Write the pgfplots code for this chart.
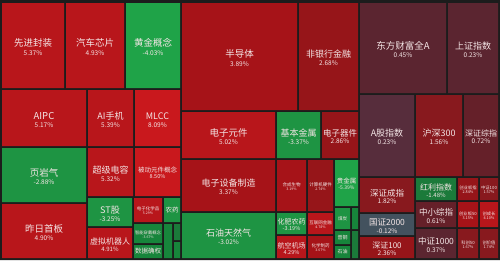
\documentclass[border=0pt]{standalone}
\usepackage{pgfplots}
\pgfplotsset{compat=1.18}
\usepackage{fontspec}
\setmainfont{Noto Sans CJK SC}
\definecolor{bg}{HTML}{1C1C1C}
\definecolor{rA}{HTML}{B8161B}
\definecolor{rB}{HTML}{C9181D}
\definecolor{rC}{HTML}{A61318}
\definecolor{rD}{HTML}{961519}
\definecolor{rE}{HTML}{88191E}
\definecolor{mA}{HTML}{5B2530}
\definecolor{mB}{HTML}{652029}
\definecolor{mC}{HTML}{572D3C}
\definecolor{gA}{HTML}{1FA348}
\definecolor{gB}{HTML}{1E9443}
\definecolor{gC}{HTML}{1B7A3A}
\definecolor{gD}{HTML}{17853B}
\definecolor{gb}{HTML}{43525E}
\definecolor{txt}{HTML}{F4E6E6}
% x0 y0 x1 y1 colour label value labelsize valuesize
\newcommand{\tile}[9]{%
  \addplot[fill=#5, draw=none, no marks] coordinates {(#1,#2) (#3,#2) (#3,#4) (#1,#4) (#1,#2)};
  \node[anchor=base, inner sep=0pt, text=txt, font=\fontsize{#8}{#8}\selectfont, yshift={-0.15*#8}]
    at (axis cs:{(#1+#3)/2},{(#2+#4)/2}) {#6};
  \node[anchor=base, inner sep=0pt, text=txt, font=\fontsize{#9}{#9}\selectfont, yshift={-1.05*#8}]
    at (axis cs:{(#1+#3)/2},{(#2+#4)/2}) {#7};
}
% label only
\newcommand{\tilel}[7]{%
  \addplot[fill=#5, draw=none, no marks] coordinates {(#1,#2) (#3,#2) (#3,#4) (#1,#4) (#1,#2)};
  \node[anchor=center, inner sep=0pt, text=txt, font=\fontsize{#7}{#7}\selectfont]
    at (axis cs:{(#1+#3)/2},{(#2+#4)/2}) {#6};
}
\begin{document}
\begin{tikzpicture}
\begin{axis}[width=500pt, height=260pt, scale only axis,
  xmin=0, xmax=500, ymin=0, ymax=260, y dir=reverse, hide axis, clip=false]
\addplot[fill=bg, draw=none, no marks] coordinates {(0,0) (500,0) (500,260) (0,260) (0,0)};
% top row
\tile{2}{3}{64}{88}{rA}{先进封装}{5.37\%}{9.5}{6.5}
\tile{66}{3}{124}{88}{rA}{汽车芯片}{4.93\%}{9.5}{6.5}
\tile{126}{3}{180}{88}{gA}{黄金概念}{-4.03\%}{9.5}{6.5}
\tile{182}{3}{297}{110}{rC}{半导体}{3.89\%}{9.5}{6.5}
\tile{299}{3}{358}{110}{rD}{非银行金融}{2.68\%}{9}{6.5}
\tile{360}{3}{446}{93}{mA}{东方财富全A}{0.45\%}{9.5}{6.5}
\tile{448}{3}{498}{93}{mA}{上证指数}{0.23\%}{9}{6.5}
% left block
\tile{2}{90}{86}{146}{rA}{AIPC}{5.17\%}{9.5}{6.5}
\tile{88}{90}{133}{146}{rA}{AI手机}{5.39\%}{9}{6.5}
\tile{135}{90}{180}{146}{rB}{MLCC}{8.09\%}{9}{6.5}
\tile{2}{148}{86}{202}{gB}{页岩气}{-2.88\%}{9.5}{6.5}
\tile{2}{204}{86}{258}{rA}{昨日首板}{4.90\%}{9.5}{6.5}
\tile{88}{148}{133}{196}{rA}{超级电容}{5.32\%}{9}{6.5}
\tile{135}{148}{180}{196}{rB}{被动元件概念}{8.50\%}{6.5}{5.5}
\tile{88}{198}{132}{226}{gB}{ST股}{-3.25\%}{9}{6.5}
\tile{88}{228}{132}{258}{rA}{虚拟机器人}{4.91\%}{8}{6}
\tile{134}{198}{162}{222}{rA}{电子化学品}{5.29\%}{4.5}{3.5}
\tile{134}{224}{162}{243}{gD}{智能穿戴概念}{-3.67\%}{4.3}{3.5}
\tilel{134}{245}{162}{258}{gD}{数据确权}{6.5}
\tilel{164}{198}{180}{222}{gB}{农药}{6.5}
\addplot[fill=gD, draw=none, no marks] coordinates {(164,224) (172,224) (172,258) (164,258) (164,224)};
\addplot[fill=gC, draw=none, no marks] coordinates {(174,224) (180,224) (180,240) (174,240) (174,224)};
\addplot[fill=gD, draw=none, no marks] coordinates {(174,242) (180,242) (180,258) (174,258) (174,242)};
% middle block
\tile{182}{112}{275}{158}{rA}{电子元件}{5.02\%}{9.5}{6.5}
\tile{277}{112}{320}{158}{gB}{基本金属}{-3.37\%}{9}{6.5}
\tile{322}{112}{358}{158}{rD}{电子器件}{2.86\%}{8.5}{6.5}
\tile{182}{160}{275}{211}{rC}{电子设备制造}{3.37\%}{9}{6.5}
\tile{182}{213}{275}{258}{gB}{石油天然气}{-3.02\%}{9}{6.5}
\tile{277}{160}{306}{211}{rC}{合成生物}{3.19\%}{4.5}{3.5}
\tile{308}{160}{333}{211}{rD}{计算机硬件}{2.74\%}{4.5}{3.5}
\tile{277}{213}{306}{234}{gB}{化肥农药}{-3.19\%}{7}{5.5}
\tile{277}{236}{306}{258}{rA}{航空机场}{4.29\%}{7}{5.5}
\tile{308}{213}{333}{234}{rA}{互联网金融}{4.78\%}{4.5}{3.5}
\tile{308}{236}{333}{258}{rC}{化学制药}{3.67\%}{4.5}{3.5}
\tile{335}{160}{358}{206}{gA}{贵金属}{-5.39\%}{6.5}{5}
\tilel{335}{208}{350}{229}{gB}{煤炭}{4.5}
\addplot[fill=gD, draw=none, no marks] coordinates {(352,208) (358,208) (358,229) (352,229) (352,208)};
\tilel{335}{231}{350}{244}{gD}{普钢}{5}
\tilel{335}{246}{350}{258}{gD}{石油}{5}
\addplot[fill=gC, draw=none, no marks] coordinates {(352,231) (358,231) (358,258) (352,258) (352,231)};
% right block
\tile{360}{95}{414}{176}{mC}{A股指数}{0.23\%}{9}{6.5}
\tile{416}{95}{462}{176}{rE}{沪深300}{1.56\%}{9}{6.5}
\tile{464}{95}{498}{176}{mB}{深证综指}{0.72\%}{8}{6.5}
\tile{360}{178}{414}{212}{rE}{深证成指}{1.82\%}{8.5}{6.5}
\tile{360}{214}{414}{235}{gb}{国证2000}{-0.12\%}{8.5}{6.5}
\tile{360}{237}{414}{258}{rD}{深证100}{2.36\%}{8}{6.5}
\tile{416}{178}{456}{200}{gC}{红利指数}{-1.48\%}{8}{6}
\tile{416}{202}{456}{227}{mB}{中小综指}{0.61\%}{8.5}{6.5}
\tile{416}{229}{456}{258}{mA}{中证1000}{0.37\%}{8.5}{6.5}
\tile{458}{178}{478}{200}{rD}{创业板指}{2.84\%}{4.3}{3.8}
\tile{480}{178}{498}{200}{rE}{中证100}{1.57\%}{4.3}{3.8}
\tile{458}{202}{478}{227}{rC}{创业板50}{3.15\%}{4.3}{3.8}
\tile{480}{202}{498}{227}{rA}{创成长}{4.10\%}{4.3}{3.8}
\tile{458}{229}{478}{258}{rE}{科创50}{1.67\%}{4.3}{3.8}
\tile{480}{229}{498}{258}{rE}{创价值}{1.74\%}{4.3}{3.8}
\end{axis}
\end{tikzpicture}
\end{document}
